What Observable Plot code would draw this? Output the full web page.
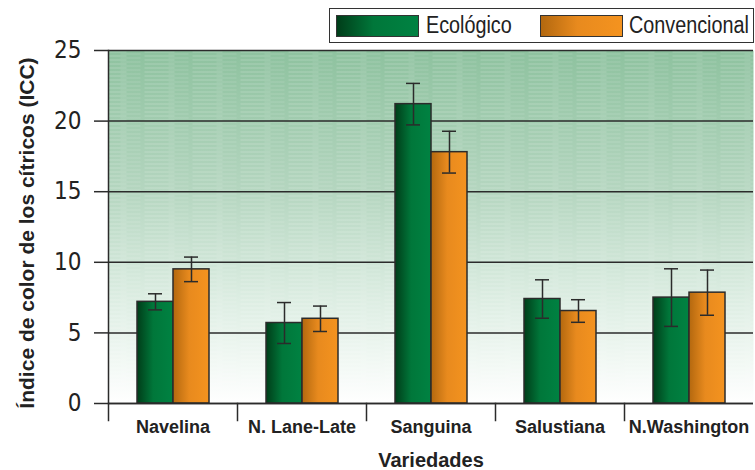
<!DOCTYPE html>
<html>
<head>
<meta charset="utf-8">
<script src="https://cdn.jsdelivr.net/npm/d3@7"></script>
<script src="https://cdn.jsdelivr.net/npm/@observablehq/plot@0.6"></script>
<style>
  body { margin: 0; background: #fff; }
  #wrap { width: 755px; }
  #legend { position: relative; height: 46px; font-family: "Liberation Sans", Arial, sans-serif; }
  .lbox { position: absolute; left: 329px; top: 8px; width: 425px; height: 35px; box-sizing: border-box; border: 1.5px solid #333; background: #fff; }
  .sw { position: absolute; top: 15px; width: 83px; height: 22px; box-sizing: border-box; border: 1.5px solid #333; }
  .lt { position: absolute; top: 11px; font-size: 23px; line-height: 28px; color: #222; transform: scaleX(0.86); transform-origin: left center; white-space: nowrap; }
</style>
</head>
<body>
<div id="wrap">
  <div id="legend"></div>
  <div id="chart"></div>
</div>
<script>
// ---- data ----
const categories = ["Navelina", "N. Lane-Late", "Sanguina", "Salustiana", "N.Washington"];
const series = ["Ecológico", "Convencional"];
const ecoValues = [7.2, 5.7, 21.2, 7.4, 7.5];
const ecoErrors = [0.57, 1.45, 1.47, 1.36, 2.04];
const convValues = [9.5, 6.0, 17.8, 6.55, 7.85];
const convErrors = [0.87, 0.9, 1.48, 0.8, 1.6];
const yTicks = [0, 5, 10, 15, 20, 25];
const xLabel = "Variedades";
const yLabel = "Índice de color de los cítricos (ICC)";

const gradients = {
  "Ecológico": ["#003d19", "#00773a", "#008242"],
  "Convencional": ["#b3680f", "#e88a1e", "#f4931f"]
};

const rows = categories.flatMap((c, i) => [
  {cat: c, serie: series[0], v: ecoValues[i], e: ecoErrors[i]},
  {cat: c, serie: series[1], v: convValues[i], e: convErrors[i]}
]);

// ---- legend ----
const legend = document.getElementById("legend");
const box = document.createElement("div");
box.className = "lbox";
legend.appendChild(box);
const swLeft = [336, 540];
const txLeft = [426, 629];
series.forEach((s, i) => {
  const sw = document.createElement("div");
  sw.className = "sw";
  sw.style.left = swLeft[i] + "px";
  const g = gradients[s];
  sw.style.background = `linear-gradient(to right, ${g[0]} 0%, ${g[1]} 45%, ${g[2]} 100%)`;
  legend.appendChild(sw);
  const t = document.createElement("div");
  t.className = "lt";
  t.style.left = txLeft[i] + "px";
  t.textContent = s;
  legend.appendChild(t);
});

// ---- chart ----
const font = "Liberation Sans, Arial, sans-serif";
const narrow = "Liberation Sans Narrow, DejaVu Sans Condensed, sans-serif";

const chart = Plot.plot({
  width: 755,
  height: 424,
  marginTop: 4,
  marginBottom: 67,
  marginLeft: 106,
  marginRight: 0,
  style: {background: "transparent", overflow: "visible", color: "#222"},
  fx: {domain: categories, padding: 0},
  x: {domain: series, paddingInner: 0, paddingOuter: 0.78, axis: null},
  y: {domain: [0, 25], ticks: yTicks},
  color: {domain: series, range: series.map((s, i) => `url(#grad-${i})`)},
  marks: [
    Plot.frame({facet: "super", fill: "url(#bgGrad)", stroke: "none"}),
    Plot.frame({facet: "super", fill: "url(#bgTex)", stroke: "none"}),
    Plot.gridY(yTicks, {stroke: "#2b2b2b", strokeOpacity: 1, strokeWidth: 1.5}),
    Plot.frame({anchor: "left", stroke: "#2b2b2b", strokeWidth: 1.5, insetTop: 353, insetBottom: -17}),
    Plot.frame({facet: "super", anchor: "left", stroke: "#2b2b2b", strokeWidth: 1.5}),
    Plot.barY(rows, {fx: "cat", x: "serie", y: "v", fill: "serie", stroke: "#2b2b2b", strokeWidth: 1.5}),
    Plot.ruleX(rows, {fx: "cat", x: "serie", y1: d => d.v - d.e, y2: d => d.v + d.e, stroke: "#2b2b2b", strokeWidth: 1.5}),
    Plot.tickY(rows, {fx: "cat", x: "serie", y: d => d.v + d.e, stroke: "#2b2b2b", strokeWidth: 1.5, insetLeft: 11, insetRight: 11}),
    Plot.tickY(rows, {fx: "cat", x: "serie", y: d => d.v - d.e, stroke: "#2b2b2b", strokeWidth: 1.5, insetLeft: 11, insetRight: 11}),
    Plot.ruleY([0], {stroke: "#2b2b2b", strokeWidth: 1.5}),
    Plot.axisY(yTicks, {tickSize: 14, tickPadding: 13, fontSize: 24, fontFamily: narrow, label: null, stroke: "#2b2b2b", strokeWidth: 1.5}),
    Plot.axisFx({anchor: "bottom", tickSize: 0, tickPadding: 17, fontSize: 18, fontWeight: "bold", fontFamily: font, label: null}),
    Plot.text([xLabel], {facet: "super", frameAnchor: "bottom", dy: 63, fontSize: 20, fontWeight: "bold", fontFamily: font, fill: "#222"}),
    Plot.text([yLabel], {facet: "super", frameAnchor: "left", textAnchor: "middle", rotate: -90, dx: -81, dy: 6, fontSize: 21, fontWeight: "bold", fontFamily: font, fill: "#222"})
  ]
});

// gradient / texture definitions referenced by fills
const svg = chart.tagName.toLowerCase() === "svg" ? chart : chart.querySelector("svg");
const defs = d3.select(svg).insert("defs", ":first-child");
const bg = defs.append("linearGradient").attr("id", "bgGrad").attr("x1", 0).attr("y1", 0).attr("x2", 0).attr("y2", 1);
bg.append("stop").attr("offset", "0%").attr("stop-color", "#8ec29f");
bg.append("stop").attr("offset", "40%").attr("stop-color", "#b5d6c0");
bg.append("stop").attr("offset", "70%").attr("stop-color", "#dcede2");
bg.append("stop").attr("offset", "100%").attr("stop-color", "#ffffff");
series.forEach((s, i) => {
  const g = defs.append("linearGradient").attr("id", `grad-${i}`).attr("x1", 0).attr("y1", 0).attr("x2", 1).attr("y2", 0);
  g.append("stop").attr("offset", "0%").attr("stop-color", gradients[s][0]);
  g.append("stop").attr("offset", "45%").attr("stop-color", gradients[s][1]);
  g.append("stop").attr("offset", "100%").attr("stop-color", gradients[s][2]);
});
const pat = defs.append("pattern").attr("id", "bgTex").attr("patternUnits", "userSpaceOnUse").attr("width", 48).attr("height", 4);
pat.append("rect").attr("x", 0).attr("y", 1).attr("width", 30).attr("height", 1).attr("fill", "#ffffff").attr("fill-opacity", 0.22);
pat.append("rect").attr("x", 24).attr("y", 3).attr("width", 20).attr("height", 1).attr("fill", "#ffffff").attr("fill-opacity", 0.15);

document.getElementById("chart").appendChild(chart);
</script>
</body>
</html>
